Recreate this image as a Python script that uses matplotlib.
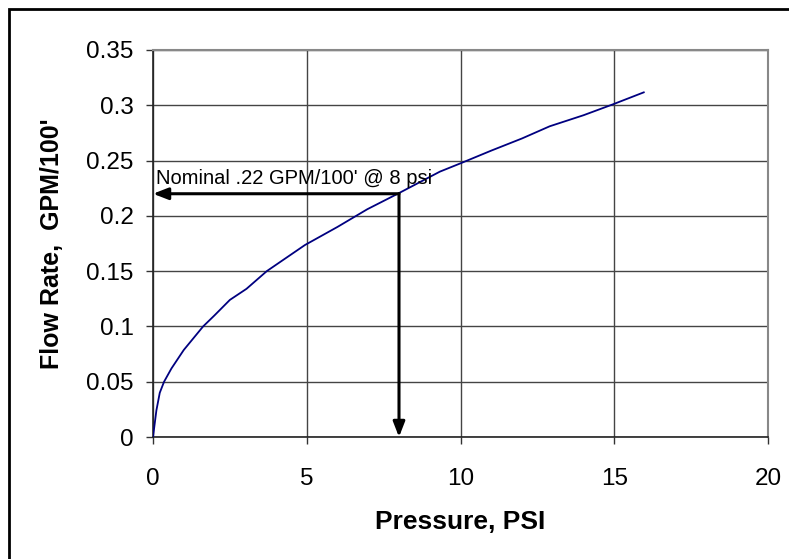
import matplotlib.pyplot as plt
from matplotlib.patches import Rectangle

# values
pressure = [0, 0.11, 0.22, 0.36, 0.6, 1.0, 1.63, 2.0, 2.5, 3.04, 3.7, 4.12, 4.94, 6.0, 6.97,
            7.98, 9.33, 10.0, 11.0, 12.0, 12.9, 14.0, 14.97, 15.96]
flow = [0, 0.024, 0.040, 0.050, 0.062, 0.0787, 0.100, 0.110, 0.124, 0.134, 0.150, 0.158,
        0.1736, 0.190, 0.206, 0.2203, 0.240, 0.2475, 0.259, 0.270, 0.281, 0.291, 0.301, 0.3117]

nominal_p = 8
nominal_q = 0.22
note = "Nominal .22 GPM/100' @ 8 psi"

x_ticks = [0, 5, 10, 15, 20]
y_ticks = [0, 0.05, 0.1, 0.15, 0.2, 0.25, 0.3, 0.35]
y_tick_labels = ['0', '0.05', '0.1', '0.15', '0.2', '0.25', '0.3', '0.35']

plt.rcParams['font.family'] = ['Liberation Sans', 'DejaVu Sans']

fig = plt.figure(figsize=(7.89, 5.59), dpi=100)
ax = fig.add_axes([153 / 789, 1 - 437 / 559, 615 / 789, 387 / 559])

ax.plot(pressure, flow, color='#000080', linewidth=1.3, zorder=3)

# arrows from the nominal point to both axes
arrow = dict(arrowstyle='-|>,head_length=0.9,head_width=0.35',
             color='black', lw=2.2, shrinkA=0, shrinkB=0)
ax.annotate('', xy=(0, nominal_q), xytext=(nominal_p, nominal_q), arrowprops=arrow, zorder=4)
ax.annotate('', xy=(nominal_p, 0), xytext=(nominal_p, nominal_q), arrowprops=arrow, zorder=4)
ax.text(0.1, 0.2255, note, fontsize=14.5, ha='left', va='bottom', zorder=5)

ax.set_xlim(0, 20)
ax.set_ylim(0, 0.35)
ax.set_xticks(x_ticks)
ax.set_yticks(y_ticks)
ax.set_yticklabels(y_tick_labels)
ax.tick_params(labelsize=17.5, length=5, width=1, color='#333333', direction='out')
ax.tick_params(axis='x', pad=17)
ax.tick_params(axis='y', pad=9)
ax.grid(True, color='#444444', linewidth=1)
ax.set_axisbelow(True)
for side in ['top', 'right']:
    ax.spines[side].set_color('#888888')
    ax.spines[side].set_linewidth(1.5)
for side in ['left', 'bottom']:
    ax.spines[side].set_color('#222222')
    ax.spines[side].set_linewidth(1.2)

ax.set_xlabel('Pressure, PSI', fontsize=19, fontweight='bold')
ax.set_ylabel('Flow Rate,  GPM/100\'', fontsize=18, fontweight='bold')
ax.xaxis.label.set_va('center')
ax.yaxis.label.set_va('center')
ax.xaxis.set_label_coords(0.5, (437 - 522) / 387)
ax.yaxis.set_label_coords((52 - 153) / 615, 0.5)

# outer chart border, cut off at the right and bottom
fig.patches.append(Rectangle((9, -20), 820, 559 - 9 + 20, transform=None,
                             fill=False, edgecolor='black', linewidth=2))

fig.savefig('out.png', dpi=100)
